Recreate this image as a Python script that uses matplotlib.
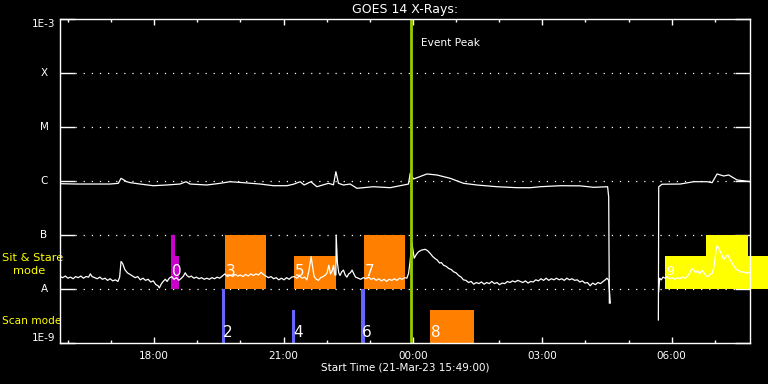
import numpy as np
import matplotlib
matplotlib.use("Agg")
import matplotlib.pyplot as plt
from matplotlib.ticker import FixedLocator, FuncFormatter
import matplotlib.transforms as mtransforms

# ---------------- data (time in hours from 00:00 on 21-Mar-23) ----------------
t_start = 15 + 49 / 60
t_end = t_start + 16.0
event_peak = 23.96

# short channel: (time, log10 flux W/m^2); nan marks a data gap
short_channel = [
    (15.82, -7.77), (15.88, -7.79), (15.94, -7.76), (16.00, -7.80), (16.06, -7.78), (16.12, -7.81),
    (16.18, -7.77), (16.24, -7.79), (16.30, -7.76), (16.36, -7.80), (16.42, -7.77), (16.48, -7.78),
    (16.52, -7.72), (16.56, -7.77), (16.62, -7.79), (16.68, -7.81), (16.74, -7.78), (16.80, -7.82),
    (16.86, -7.80), (16.92, -7.84), (16.98, -7.81), (17.04, -7.85), (17.10, -7.83), (17.16, -7.86),
    (17.20, -7.78), (17.232, -7.49), (17.27, -7.53), (17.32, -7.64), (17.38, -7.70), (17.44, -7.73),
    (17.50, -7.76), (17.56, -7.79), (17.62, -7.77), (17.68, -7.83), (17.74, -7.80), (17.80, -7.84),
    (17.86, -7.82), (17.92, -7.87), (17.98, -7.85), (18.04, -7.92), (18.09, -7.94), (18.12, -7.98),
    (18.17, -7.90), (18.22, -7.85), (18.26, -7.82), (18.30, -7.86), (18.35, -7.80), (18.41, -7.77),
    (18.46, -7.82), (18.52, -7.79), (18.57, -7.84), (18.62, -7.81), (18.68, -7.76), (18.72, -7.70),
    (18.76, -7.75), (18.81, -7.78), (18.86, -7.76), (18.92, -7.80), (18.98, -7.78), (19.04, -7.81),
    (19.10, -7.79), (19.16, -7.82), (19.22, -7.80), (19.28, -7.82), (19.34, -7.79), (19.40, -7.81),
    (19.46, -7.78), (19.52, -7.80), (19.58, -7.76), (19.64, -7.72), (19.70, -7.77), (19.76, -7.74),
    (19.82, -7.77), (19.88, -7.73), (19.94, -7.76), (20.00, -7.74), (20.06, -7.77), (20.12, -7.73),
    (20.18, -7.76), (20.24, -7.72), (20.30, -7.75), (20.36, -7.72), (20.42, -7.74), (20.48, -7.69),
    (20.53, -7.73), (20.59, -7.76), (20.65, -7.79), (20.71, -7.77), (20.77, -7.81), (20.83, -7.79),
    (20.89, -7.83), (20.95, -7.80), (21.01, -7.83), (21.07, -7.79), (21.13, -7.82), (21.19, -7.78),
    (21.25, -7.77), (21.31, -7.80), (21.37, -7.76), (21.43, -7.80), (21.49, -7.78), (21.54, -7.83),
    (21.59, -7.66), (21.64, -7.40), (21.68, -7.62), (21.71, -7.77), (21.76, -7.82), (21.81, -7.84),
    (21.86, -7.79), (21.92, -7.77), (21.97, -7.74), (22.01, -7.70), (22.05, -7.56), (22.09, -7.72),
    (22.13, -7.66), (22.16, -7.56), (22.19, -7.74), (22.215, -7.74), (22.22, -7.00), (22.25, -7.52),
    (22.28, -7.70), (22.31, -7.75), (22.35, -7.68), (22.39, -7.65), (22.43, -7.74), (22.47, -7.78),
    (22.51, -7.72), (22.55, -7.70), (22.59, -7.65), (22.63, -7.72), (22.67, -7.78), (22.73, -7.80),
    (22.79, -7.82), (22.85, -7.79), (22.91, -7.81), (22.97, -7.78), (23.03, -7.82), (23.09, -7.80),
    (23.15, -7.84), (23.21, -7.81), (23.27, -7.85), (23.33, -7.82), (23.39, -7.86), (23.45, -7.82),
    (23.51, -7.84), (23.57, -7.81), (23.63, -7.84), (23.69, -7.80), (23.75, -7.82), (23.81, -7.79),
    (23.86, -7.80), (23.90, -7.71), (23.93, -7.52), (23.977, -7.15), (24.03, -7.43), (24.08, -7.36),
    (24.13, -7.31), (24.20, -7.28), (24.285, -7.265), (24.34, -7.29), (24.40, -7.34), (24.46, -7.40),
    (24.52, -7.44), (24.56, -7.46), (24.62, -7.52), (24.66, -7.51), (24.71, -7.56), (24.77, -7.58),
    (24.83, -7.62), (24.89, -7.64), (24.94, -7.68), (25.00, -7.70), (25.06, -7.75), (25.12, -7.78),
    (25.17, -7.83), (25.23, -7.84), (25.29, -7.88), (25.35, -7.86), (25.41, -7.91), (25.47, -7.88),
    (25.53, -7.90), (25.59, -7.87), (25.65, -7.91), (25.71, -7.88), (25.77, -7.90), (25.83, -7.86),
    (25.89, -7.90), (25.95, -7.88), (26.01, -7.92), (26.07, -7.89), (26.13, -7.90), (26.19, -7.86),
    (26.25, -7.88), (26.31, -7.85), (26.37, -7.87), (26.43, -7.84), (26.49, -7.86), (26.55, -7.88),
    (26.61, -7.85), (26.67, -7.89), (26.73, -7.86), (26.79, -7.87), (26.85, -7.83), (26.91, -7.85),
    (26.97, -7.81), (27.03, -7.84), (27.09, -7.80), (27.15, -7.84), (27.21, -7.81), (27.27, -7.83),
    (27.33, -7.80), (27.39, -7.83), (27.45, -7.81), (27.51, -7.84), (27.57, -7.80), (27.63, -7.83),
    (27.69, -7.81), (27.75, -7.84), (27.81, -7.83), (27.87, -7.87), (27.93, -7.85), (27.99, -7.89),
    (28.05, -7.88), (28.11, -7.94), (28.17, -7.89), (28.23, -7.92), (28.29, -7.88), (28.35, -7.90),
    (28.41, -7.86), (28.46, -7.83), (28.50, -7.80), (28.54, -7.84), (28.56, -8.05), (28.578, -8.26),
    (29.0, np.nan),
    (29.699, -8.05), (29.722, -7.80), (29.76, -7.83), (29.80, -7.78), (29.85, -7.80), (29.89, -7.77),
    (29.95, -7.81), (30.01, -7.79), (30.07, -7.82), (30.13, -7.79), (30.19, -7.81), (30.25, -7.78),
    (30.31, -7.80), (30.36, -7.77), (30.42, -7.70), (30.47, -7.62), (30.52, -7.66), (30.56, -7.70),
    (30.60, -7.66), (30.65, -7.72), (30.70, -7.65), (30.75, -7.70), (30.80, -7.76), (30.84, -7.77),
    (30.89, -7.73), (30.94, -7.71), (30.98, -7.60), (31.02, -7.35), (31.05, -7.20), (31.09, -7.24),
    (31.13, -7.31), (31.17, -7.38), (31.21, -7.46), (31.25, -7.40), (31.30, -7.37), (31.35, -7.45),
    (31.40, -7.52), (31.45, -7.58), (31.50, -7.64), (31.56, -7.66), (31.62, -7.69), (31.67, -7.68),
    (31.72, -7.71), (31.77, -7.69), (31.826, -7.71),
]

# long channel: (time, log10 flux W/m^2)
long_channel = [
    (15.817, -6.05), (16.204, -6.056), (16.589, -6.056), (16.977, -6.056), (17.170, -6.043),
    (17.232, -5.95), (17.364, -6.013), (17.441, -6.03), (17.673, -6.056), (17.981, -6.087),
    (18.292, -6.074), (18.601, -6.056), (18.740, -6.013), (18.833, -6.056), (19.220, -6.074),
    (19.529, -6.043), (19.761, -6.013), (20.070, -6.031), (20.457, -6.056), (20.766, -6.087),
    (21.077, -6.087), (21.230, -6.06), (21.385, -6.013), (21.478, -6.074), (21.634, -6.013),
    (21.772, -6.106), (22.042, -6.043), (22.158, -6.07), (22.214, -5.828), (22.274, -6.043),
    (22.390, -6.074), (22.545, -6.056), (22.701, -6.135), (23.086, -6.106), (23.473, -6.124),
    (23.898, -6.056), (23.937, -5.857), (24.014, -5.963), (24.325, -5.870), (24.557, -5.889),
    (24.866, -5.950), (25.174, -6.043), (25.485, -6.074), (25.949, -6.106), (26.413, -6.124),
    (26.722, -6.124), (26.954, -6.106), (27.418, -6.087), (27.882, -6.09), (28.191, -6.117),
    (28.515, -6.106), (28.54, -6.3), (28.555, -8.26),
    (29.0, np.nan),
    (29.692, -8.574), (29.70, -6.106), (29.777, -6.06), (30.202, -6.056), (30.511, -6.013),
    (30.822, -6.013), (30.938, -6.031), (31.053, -5.870), (31.207, -5.907), (31.323, -5.889),
    (31.518, -5.981), (31.826, -6.013),
]

# observation blocks
bar_start = [18.392, 18.485, 19.645, 21.246, 22.870, 19.575, 21.200, 22.801, 24.401, 29.855, 30.806, 31.781]
bar_end = [18.485, 18.578, 20.589, 22.213, 23.814, 19.638, 21.262, 22.894, 25.415, 30.806, 31.781, 32.245]
bar_bottom = [1e-8, 1e-8, 1e-8, 1e-8, 1e-8, 1e-9, 1e-9, 1e-9, 1e-9, 1e-8, 1e-8, 1e-8]
bar_top = [1e-7, 4e-8, 1e-7, 4e-8, 1e-7, 1e-8, 4e-9, 1e-8, 4e-9, 4e-8, 1e-7, 4e-8]
bar_color = ["#CC00CC", "#CC00CC", "#FF8000", "#FF8000", "#FF8000", "#6666FF", "#6666FF",
             "#6666FF", "#FF8000", "#FFFF00", "#FFFF00", "#FFFF00"]
bar_label = ["0", "", "3", "5", "7", "2", "4", "6", "8", "9", "", ""]

ytick_vals = [1e-9, 1e-8, 1e-7, 1e-6, 1e-5, 1e-4, 1e-3]
ytick_text = ["1E-9", "A", "B", "C", "M", "X", "1E-3"]
xtick_major = [18, 21, 24, 27, 30]

# ---------------- figure ----------------
fig = plt.figure(figsize=(7.68, 3.84), dpi=100, facecolor="black")
ax = fig.add_axes([60 / 768, 1 - 343 / 384, 690 / 768, 324 / 384], facecolor="black")
ax.set_yscale("log")
ax.set_xlim(t_start, t_end)
ax.set_ylim(1e-9, 1e-3)

# dotted grid
for v in ytick_vals[1:-1]:
    ax.axhline(v, xmin=15 / 690, xmax=1 - 14 / 690, color="white", lw=0.9,
               linestyle=(0, (1, 5.5)), zorder=1)

# bars
for s, e, b, tp, c in zip(bar_start, bar_end, bar_bottom, bar_top, bar_color):
    ax.bar(s, tp - b, bottom=b, width=e - s, align="edge", color=c, lw=0,
           zorder=2, clip_on=False)
for s, b, lab in zip(bar_start, bar_bottom, bar_label):
    if not lab:
        continue
    yl = 2.1e-8 if b == 1e-8 else 1.55e-9
    fs = 9 if lab == "9" else 11
    ax.text(s + 0.02, yl, lab, color="white", fontsize=fs, ha="left", va="center", zorder=4)

# curves
st, sl = zip(*short_channel)
lt, ll = zip(*long_channel)
ax.plot(st, 10 ** np.array(sl, dtype=float), color="white", lw=0.9, zorder=3)
ax.plot(lt, 10 ** np.array(ll, dtype=float), color="white", lw=0.9, zorder=3)

# event peak
ax.axvline(event_peak, color="#99CC00", lw=2.0, zorder=5)
ax.text(event_peak + 0.23, 10 ** (-3 - 24 / 54), "Event Peak", color="white", fontsize=7.6,
        ha="left", va="center")

# spines
for sp in ax.spines.values():
    sp.set_color("white")
    sp.set_linewidth(1.0)
    sp.set_zorder(6)

# x ticks
ax.xaxis.set_major_locator(FixedLocator(xtick_major))
ax.xaxis.set_minor_locator(FixedLocator(list(range(16, 32))))
ax.xaxis.set_major_formatter(FuncFormatter(lambda v, p: "%02d:00" % (int(round(v)) % 24)))
ax.tick_params(axis="x", which="major", direction="in", length=4.5, width=1, color="white",
               top=True, bottom=True, labelcolor="white", labelsize=7.5, pad=6)
ax.tick_params(axis="x", which="minor", direction="in", length=2.5, width=1, color="white",
               top=True, bottom=True)

# y ticks
ax.yaxis.set_major_locator(FixedLocator(ytick_vals))
ax.yaxis.set_minor_locator(FixedLocator([]))
ax.tick_params(axis="y", which="major", direction="in", length=10.5, width=1, color="white",
               left=True, right=True, labelleft=False)
trans = mtransforms.blended_transform_factory(ax.transAxes, ax.transData)
for v, txt in zip(ytick_vals, ytick_text):
    va = "center"
    if txt == "1E-3":
        va = "top"
    elif txt == "1E-9":
        va = "bottom"
    ax.text(-16 / 690, v, txt, color="white", fontsize=7.5, ha="center", va=va, transform=trans)

# mode labels
ax.text(-58 / 690, 10 ** (-7.43), "Sit & Stare", color="#FFFF00", fontsize=8.2,
        ha="left", va="center", transform=trans)
ax.text(-47 / 690, 10 ** (-7.67), "mode", color="#FFFF00", fontsize=8.2,
        ha="left", va="center", transform=trans)
ax.text(-58 / 690, 10 ** (-8.6), "Scan mode", color="#FFFF00", fontsize=7.6,
        ha="left", va="center", transform=trans)

fig.text(405 / 768, 1 - 10 / 384, "GOES 14 X-Rays:", color="white", fontsize=9,
         ha="center", va="center")
fig.text(405 / 768, 1 - 368 / 384, "Start Time (21-Mar-23 15:49:00)", color="white",
         fontsize=7.5, ha="center", va="center")

fig.savefig("out.png", dpi=100, facecolor="black")
